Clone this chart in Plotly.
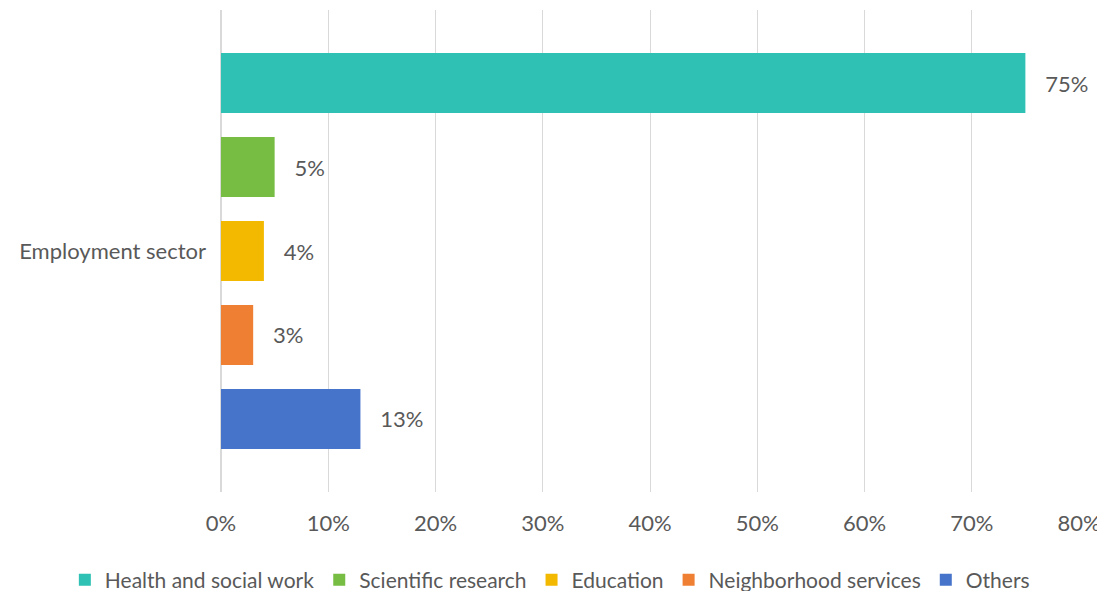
import plotly.graph_objects as go

category = ["Employment sector"]
series_names = ["Health and social work", "Scientific research", "Education", "Neighborhood services", "Others"]
series_values = [0.75, 0.05, 0.04, 0.03, 0.13]
series_colors = ["#2FC1B4", "#77BD43", "#F2B900", "#EF7F32", "#4674CA"]
x_ticks = [0, 0.1, 0.2, 0.3, 0.4, 0.5, 0.6, 0.7, 0.8]

FONT = "Lato"
TXT = "#595959"
FS = 22

fig = go.Figure()
for name, val, col in zip(series_names, series_values, series_colors):
    fig.add_trace(go.Bar(
        y=category, x=[val], name=name, orientation="h",
        marker=dict(color=col, line=dict(width=0)),
        text=[val], texttemplate="\u00a0\u00a0\u00a0%{x:.0%}",
        textposition="outside", cliponaxis=False,
        textfont=dict(family=FONT, size=FS, color=TXT),
    ))

fig.update_layout(
    width=1097, height=583,
    margin=dict(l=213, r=26, t=2, b=99, autoexpand=False),
    paper_bgcolor="white", plot_bgcolor="white",
    barmode="group", bargap=0.129, bargroupgap=0.286,
    font=dict(family=FONT, size=FS, color=TXT),
    showlegend=True,
    legend=dict(orientation="h", x=-0.182, xanchor="left",
                y=-0.183, yanchor="middle",
                font=dict(family=FONT, size=21, color=TXT), itemwidth=30,
                tracegroupgap=0, traceorder="normal"),
    xaxis=dict(range=[0, 0.8], tickvals=x_ticks, tickformat=".0%",
               showgrid=True, gridcolor="#D9D9D9", gridwidth=1,
               zeroline=True, zerolinecolor="#D9D9D9", showline=False,
               ticks="", ticklabelstandoff=16, automargin=False,
               tickfont=dict(family=FONT, size=FS, color=TXT)),
    yaxis=dict(autorange="reversed", showgrid=False, showline=False, ticks="",
               ticklabelstandoff=14, automargin=False,
               tickfont=dict(family=FONT, size=FS, color=TXT)),
)

fig.write_html("out.html")
